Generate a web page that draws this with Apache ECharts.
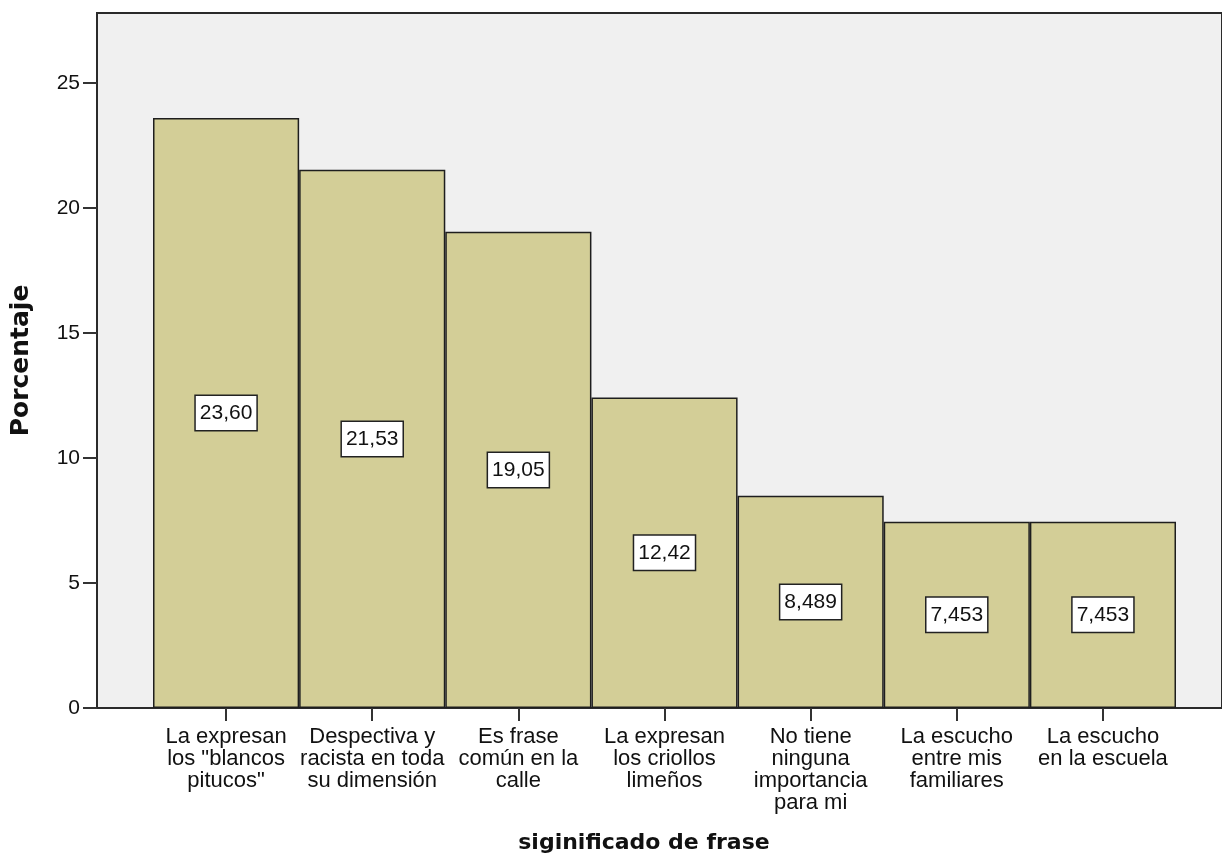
<!DOCTYPE html>
<html>
<head>
<meta charset="utf-8">
<script src="https://cdn.jsdelivr.net/npm/echarts@6/dist/echarts.min.js"></script>
<style>
html,body{margin:0;padding:0;background:#fff;}
#chart{width:1222px;height:860px;}
</style>
</head>
<body>
<div id="chart"></div>
<script>
const categories = [
  'La expresan\nlos "blancos\npitucos"',
  'Despectiva y\nracista en toda\nsu dimensión',
  'Es frase\ncomún en la\ncalle',
  'La expresan\nlos criollos\nlimeños',
  'No tiene\nninguna\nimportancia\npara mi',
  'La escucho\nentre mis\nfamiliares',
  'La escucho\nen la escuela'
];
const percentages = [23.60, 21.53, 19.05, 12.42, 8.489, 7.453, 7.453];
const yTicks = [0, 5, 10, 15, 20, 25];
const xTitle = 'siginificado de frase';
const yTitle = 'Porcentaje';

const chart = echarts.init(document.getElementById('chart'));
const yMax = 27.8;
const fmt = v => Number(v).toPrecision(4).replace('.', ',');

chart.setOption({
  animation: false,
  grid: [
    {left: 97, right: -14, top: 13, bottom: 152, show: true,
     backgroundColor: '#f0f0f0', borderColor: '#2a2a2a', borderWidth: 2},
    {left: 153, right: 46, top: 13, bottom: 152, show: false}
  ],
  xAxis: [
    {gridIndex: 0, type: 'value', min: 0, max: 1, show: false},
    {gridIndex: 1, type: 'category', data: categories,
     axisLine: {show: false},
     axisTick: {show: true, alignWithLabel: true, length: 13, lineStyle: {color: '#333', width: 2}},
     axisLabel: {interval: 0, margin: 18, color: '#111', fontFamily: 'Liberation Sans, Arial, sans-serif',
       fontSize: 22, lineHeight: 22, align: 'center'}}
  ],
  yAxis: [
    {gridIndex: 0, type: 'value', min: 0, max: yMax,
     axisLine: {show: true, lineStyle: {color: '#2a2a2a', width: 2}},
     axisTick: {show: true, length: 14, customValues: yTicks, lineStyle: {color: '#333', width: 2}},
     axisLabel: {margin: 17, color: '#111', fontFamily: 'Liberation Sans, Arial, sans-serif', fontSize: 21,
       customValues: yTicks},
     splitLine: {show: false},
     name: yTitle, nameLocation: 'middle', nameRotate: 90, nameGap: 63,
     nameTextStyle: {fontFamily: 'DejaVu Sans, sans-serif', fontWeight: 'bold', fontSize: 25, color: '#111'}},
    {gridIndex: 1, type: 'value', min: 0, max: yMax, show: false}
  ],
  graphic: [{
    type: 'text',
    style: {text: xTitle, x: 644, y: 843, textAlign: 'center', textVerticalAlign: 'middle',
      font: 'bold 22px "DejaVu Sans", sans-serif', fill: '#111'}
  }],
  series: [{
    type: 'bar', xAxisIndex: 1, yAxisIndex: 1, data: percentages,
    barCategoryGap: '0%',
    itemStyle: {color: '#d3ce97', borderColor: '#1e1e1e', borderWidth: 1.5},
    label: {show: true, position: 'inside', formatter: p => fmt(p.value),
      color: '#111', fontFamily: 'Liberation Sans, Arial, sans-serif', fontSize: 21,
      backgroundColor: '#fff', borderColor: '#222', borderWidth: 1.5,
      padding: [7, 4, 6, 4]}
  }]
});
</script>
</body>
</html>
